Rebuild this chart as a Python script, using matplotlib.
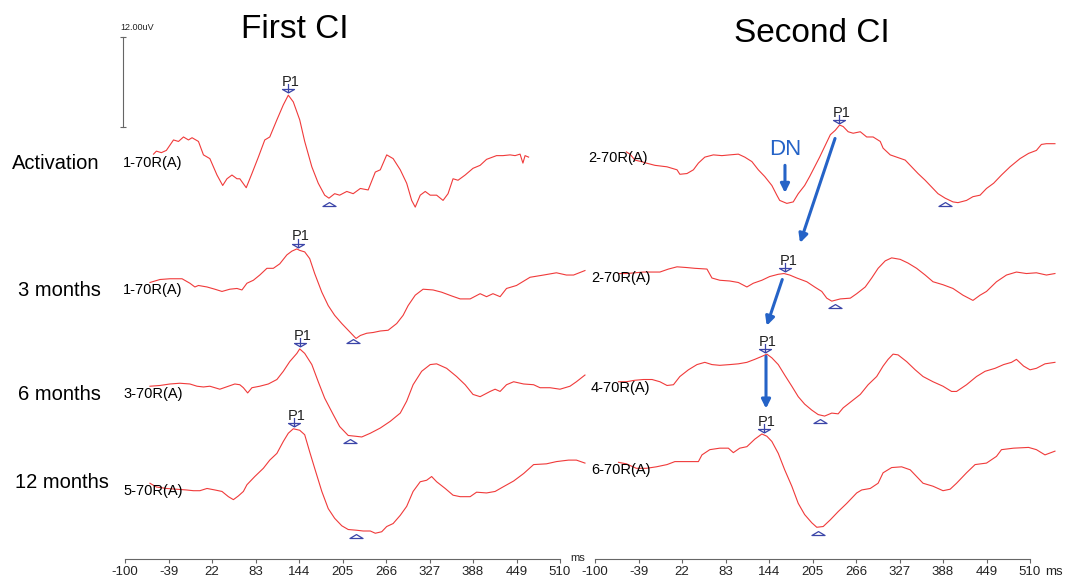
import numpy as np
import matplotlib.pyplot as plt
from matplotlib.path import Path

plt.rcParams['font.family'] = ['Liberation Sans', 'DejaVu Sans']

# ---- data (latency in ms, amplitude in uV) ----
# first CI
first_act_t = [-60, -56, -49, -42, -32, -25, -18, -11, -6, 3, 10, 19, 29, 37, 43, 50, 57, 61, 70, 78,
               87, 96, 103, 113, 122, 129, 136, 145, 152, 162, 171, 180, 186, 194, 201, 211, 220, 230,
               241, 251, 258, 267, 276, 286, 295, 302, 307, 314, 321, 328, 337, 346, 353, 360, 367,
               377, 388, 398, 407, 421, 430, 440, 447, 454, 458, 461, 466]
first_act_uv = [0.8, 1.2, 1.0, 1.3, 2.7, 2.5, 3.1, 2.7, 3.0, 2.5, 0.7, 0.2, -2.0, -3.4, -2.5, -2.0, -2.5,
                -2.5, -3.7, -1.8, 0.4, 2.7, 3.1, 5.4, 7.4, 8.7, 7.8, 5.4, 2.5, -0.9, -3.1, -4.7, -5.1,
                -4.5, -4.7, -4.2, -4.5, -3.8, -4.0, -1.6, -1.3, 0.7, 0.2, -1.3, -3.1, -5.4, -6.3, -4.7,
                -4.2, -4.7, -4.7, -5.4, -4.5, -2.5, -2.7, -2.0, -1.1, -0.7, 0.1, 0.6, 0.6, 0.7, 0.6,
                0.8, -0.4, 0.6, 0.4]

first_3m_t = [-65, -51, -37, -20, -9, -2, 3, 15, 26, 36, 47, 57, 64, 71, 80, 89, 99, 108, 117, 127,
              134, 141, 145, 152, 159, 166, 176, 185, 194, 204, 215, 224, 230, 239, 248, 258, 269, 281,
              290, 297, 307, 318, 332, 344, 358, 370, 384, 398, 407, 416, 426, 435, 449, 468, 487, 505,
              519, 529, 545]
first_3m_uv = [-0.3, 0.1, 0.2, 0.2, -0.4, -0.9, -0.7, -0.9, -1.2, -1.5, -1.2, -1.1, -1.3, -0.4, 0.0,
               0.7, 1.6, 1.6, 2.2, 3.4, 3.9, 4.2, 4.0, 3.8, 2.9, 0.9, -1.6, -3.4, -4.7, -5.8, -6.9,
               -7.8, -7.4, -7.1, -7.0, -6.8, -6.7, -5.8, -4.7, -3.4, -2.0, -1.2, -1.3, -1.6, -2.1,
               -2.5, -2.5, -1.8, -2.2, -1.8, -2.2, -1.1, -0.7, 0.4, 0.7, 1.0, 0.7, 0.7, 1.3]

first_6m_t = [-65, -51, -37, -23, -9, 1, 10, 19, 33, 45, 54, 61, 66, 72, 78, 89, 101, 113, 122, 131,
              141, 145, 152, 162, 171, 180, 192, 201, 213, 223, 232, 244, 258, 272, 286, 295, 304, 316,
              328, 337, 351, 365, 377, 388, 398, 412, 419, 426, 435, 445, 459, 473, 482, 496, 510,
              524, 533, 545]
first_6m_uv = [-0.2, -0.1, 0.1, 0.2, 0.1, -0.2, -0.3, -0.2, -0.6, -0.2, 0.1, 0.0, -0.4, -1.1, -0.4,
               -0.2, 0.1, 0.7, 1.8, 3.1, 4.2, 4.8, 4.2, 2.7, 0.4, -1.8, -4.0, -5.6, -6.8, -6.9, -7.0,
               -6.5, -5.8, -4.9, -3.8, -2.2, 0.0, 1.8, 2.7, 2.8, 2.2, 1.1, 0.0, -1.3, -1.6, -0.9,
               -0.6, -0.9, 0.0, 0.4, 0.1, 0.0, -0.4, -0.4, -0.6, -0.2, 0.4, 1.3]

first_12m_t = [-65, -56, -42, -28, -14, -4, 5, 15, 26, 36, 45, 52, 59, 66, 71, 82, 94, 103, 113, 122,
               129, 136, 145, 152, 159, 166, 176, 185, 194, 204, 213, 225, 234, 244, 251, 260, 267,
               276, 286, 295, 304, 314, 323, 330, 337, 349, 360, 370, 384, 393, 407, 419, 430, 445,
               459, 473, 491, 505, 522, 533, 545]
first_12m_uv = [0.9, 0.4, 0.2, 0.1, 0.0, -0.1, -0.1, 0.2, 0.0, -0.2, -0.9, -1.3, -0.8, -0.2, 0.7,
                1.8, 2.9, 4.0, 4.9, 6.5, 7.6, 8.2, 8.0, 7.4, 5.1, 2.9, -0.2, -2.5, -3.8, -4.8, -5.3,
                -5.4, -5.5, -5.5, -5.8, -5.6, -4.9, -4.5, -3.4, -2.2, -0.2, 1.1, 1.3, 1.8, 1.1, 0.2,
                -0.7, -0.9, -0.9, -0.3, -0.4, -0.2, 0.4, 1.2, 2.2, 3.4, 3.5, 3.8, 4.0, 4.0, 3.6]

# second CI
second_act_t = [-56, -51, -44, -35, -28, -16, 1, 15, 19, 29, 38, 45, 54, 66, 78, 89, 101, 110, 120,
                129, 138, 148, 155, 159, 169, 178, 185, 194, 201, 208, 215, 222, 230, 237, 243, 248,
                255, 262, 272, 281, 290, 300, 304, 314, 323, 335, 344, 353, 363, 372, 381, 391, 402,
                409, 421, 430, 440, 449, 459, 470, 482, 496, 508, 519, 526, 533, 545]
second_act_uv = [1.1, 0.8, 0.0, -0.2, -0.4, -0.7, -0.9, -1.3, -1.9, -1.8, -1.3, -0.4, 0.4, 0.7, 0.6,
                 0.7, 0.8, 0.4, -0.2, -1.3, -2.2, -3.4, -4.7, -5.4, -5.8, -5.6, -4.5, -3.4, -2.2,
                 -0.9, 0.4, 1.8, 3.4, 4.0, 4.7, 4.5, 3.8, 3.6, 3.8, 3.1, 3.1, 2.5, 1.6, 0.7, 0.4, 0.0,
                 -0.9, -1.8, -2.7, -3.6, -4.5, -5.1, -5.6, -5.7, -5.4, -4.9, -4.7, -3.8, -3.1, -2.0,
                 -0.9, 0.2, 0.9, 1.3, 2.1, 2.2, 2.2]

second_3m_t = [-67, -56, -44, -32, -20, -9, 3, 15, 29, 40, 57, 64, 75, 89, 101, 113, 122, 134, 145,
               157, 165, 173, 183, 197, 208, 218, 225, 232, 244, 258, 267, 279, 288, 297, 307, 316,
               328, 339, 351, 363, 374, 388, 402, 416, 430, 440, 449, 463, 477, 491, 505, 519, 533, 545]
second_3m_uv = [0.2, 0.2, 0.3, 0.4, 0.4, 0.4, 0.8, 1.1, 1.0, 0.9, 0.8, -0.4, -0.7, -0.8, -1.0, -1.6,
                -1.1, -0.7, -0.2, 0.1, 0.2, 0.0, -0.4, -0.9, -1.6, -2.2, -3.1, -3.5, -3.2, -3.1, -2.5,
                -1.6, -0.4, 0.9, 1.9, 2.3, 2.1, 1.6, 0.9, 0.0, -0.9, -1.3, -1.8, -2.7, -3.4, -2.7,
                -2.2, -0.9, 0.0, 0.4, 0.2, 0.3, 0.0, 0.2]

second_6m_t = [-67, -56, -44, -32, -20, -9, 1, 10, 19, 31, 43, 54, 64, 75, 89, 101, 113, 124, 134,
               141, 148, 157, 166, 176, 185, 194, 204, 213, 222, 232, 241, 248, 260, 272, 283, 295,
               304, 311, 318, 325, 337, 349, 360, 374, 388, 400, 407, 421, 435, 447, 461, 473, 484,
               491, 501, 510, 519, 531, 545]
second_6m_uv = [0.4, 0.4, 0.6, 0.7, 0.7, 0.4, -0.1, 0.0, 1.1, 2.0, 2.7, 3.0, 2.7, 2.6, 2.7, 2.8, 3.0,
                3.4, 3.8, 4.1, 3.6, 2.7, 1.3, -0.2, -1.6, -2.6, -3.4, -4.0, -4.2, -3.8, -3.9, -3.1,
                -2.2, -1.3, 0.0, 1.1, 2.5, 3.4, 4.1, 4.0, 3.1, 2.0, 1.1, 0.4, -0.2, -0.9, -0.9, 0.0,
                1.1, 1.8, 2.2, 2.7, 3.0, 3.4, 2.5, 2.0, 2.2, 2.8, 3.0]

second_12m_t = [-67, -56, -42, -28, -14, 1, 12, 29, 45, 50, 61, 75, 87, 94, 103, 113, 124, 134, 141,
                148, 157, 166, 176, 185, 194, 204, 211, 220, 230, 241, 253, 267, 274, 286, 297, 304,
                316, 330, 342, 351, 360, 374, 388, 398, 407, 421, 433, 449, 463, 470, 487, 508, 519,
                531, 545]
second_12m_uv = [1.0, 0.8, 0.2, 0.2, 0.4, 0.7, 1.1, 1.1, 1.1, 2.0, 2.7, 2.9, 2.9, 2.3, 2.9, 3.1, 4.1,
                 4.8, 4.5, 3.8, 2.2, 0.0, -2.2, -4.5, -6.0, -7.1, -7.7, -7.6, -6.7, -5.6, -4.5, -3.1,
                 -2.7, -2.5, -1.8, -0.4, 0.3, 0.4, 0.0, -0.9, -1.8, -2.2, -2.8, -2.6, -1.8, -0.4, 0.7,
                 0.9, 1.8, 2.7, 2.9, 3.0, 2.7, 2.0, 2.5]

# marked latencies (ms)
first_p1 = [129, 143, 145, 137]
first_trough = [186, 220, 216, 224]
second_p1 = [242, 167, 138, 137]
second_trough = [391, 237, 216, 213]

row_labels = ['Activation', '3 months', '6 months', '12 months']
first_channels = ['1-70R(A)', '1-70R(A)', '3-70R(A)', '5-70R(A)']
second_channels = ['2-70R(A)', '2-70R(A)', '4-70R(A)', '6-70R(A)']
tick_values = [-100, -39, 22, 83, 144, 205, 266, 327, 388, 449, 510]

# ---- styles ----
RED = '#f03a3a'
MARK = '#3b45a8'
ARROW = '#2563c7'
GREY = '#666666'

# peak marker: flat down triangle with a stem, trough marker: flat up triangle
p1_marker = Path([(-1, 0), (1, 0), (0, -0.57), (-1, 0), (0, 0.93), (0, -0.57)],
                 [Path.MOVETO, Path.LINETO, Path.LINETO, Path.CLOSEPOLY, Path.MOVETO, Path.LINETO])
trough_marker = Path([(-1, 0), (1, 0), (0, 0.6), (-1, 0)],
                     [Path.MOVETO, Path.LINETO, Path.LINETO, Path.CLOSEPOLY])

W, H = 1067, 581
UV_PER_PX = 0.134
fig = plt.figure(figsize=(W / 100, H / 100), dpi=100)


def make_axes(left_px, ms_x, ms_y, ms_size):
    ax = fig.add_axes([left_px / W, 0, 435 / W, 1])
    ax.set_xlim(-100, 510)
    ax.set_ylim(0, H * UV_PER_PX)
    for s in ['left', 'right', 'top']:
        ax.spines[s].set_visible(False)
    ax.spines['bottom'].set_position(('data', 22 * UV_PER_PX))
    ax.spines['bottom'].set_bounds(-100, 510)
    ax.spines['bottom'].set_color(GREY)
    ax.spines['bottom'].set_linewidth(0.8)
    ax.set_yticks([])
    ax.set_xticks(tick_values)
    ax.set_xticklabels([str(v) for v in tick_values])
    ax.tick_params(axis='x', length=3, width=0.8, color=GREY, labelsize=9.5,
                   labelcolor='#222222', pad=2)
    ax.patch.set_alpha(0)
    ax.text(ms_x, ms_y, 'ms', fontsize=ms_size, color='#222222', ha='left', va='center')
    return ax


def draw_panel(ax, traces, p1s, troughs, offsets):
    for (t, uv), tp, tt, off in zip(traces, p1s, troughs, offsets):
        y = np.array(uv) + off
        ax.plot(t, y, color=RED, lw=0.8, clip_on=False)
        yp = np.interp(tp, t, y)
        ax.plot([tp], [yp + 0.8], marker=p1_marker, ms=8.6, mfc='none', mec=MARK, mew=0.9,
                ls='none', clip_on=False)
        ax.text(tp + 4, yp + 1.25, 'P1', fontsize=10.5, color='#222222', ha='center',
                va='baseline')
        yt = np.interp(tt, t, y)
        ax.plot([tt], [yt - 1.0], marker=trough_marker, ms=9.4, mfc='none', mec=MARK, mew=0.9,
                ls='none', clip_on=False)


# left "ms" sits at the axis end, just above the right panel's first tick label
ax1 = make_axes(125, 525, 23 * UV_PER_PX, 8)
ax2 = make_axes(595, 531, 9 * UV_PER_PX, 9.5)

first_traces = [(first_act_t, first_act_uv), (first_3m_t, first_3m_uv),
                (first_6m_t, first_6m_uv), (first_12m_t, first_12m_uv)]
second_traces = [(second_act_t, second_act_uv), (second_3m_t, second_3m_uv),
                 (second_6m_t, second_6m_uv), (second_12m_t, second_12m_uv)]

draw_panel(ax1, first_traces, first_p1, first_trough, [56.4, 40.3, 26.3, 12.2])
draw_panel(ax2, second_traces, second_p1, second_trough, [56.4, 41.0, 26.3, 14.9])

# 12 uV scale bar
ax1.plot([-103.2, -103.2], [60.9, 72.9], color=GREY, lw=0.8, marker='_', ms=5, mew=0.8,
         clip_on=False)
ax1.text(-107, 74.2, '12.00uV', fontsize=6.5, color='#222222', ha='left', va='center')

# DN and the P1 shift arrows on the second CI
ax2.text(166.4, 57.8, 'DN', fontsize=16, color=ARROW, ha='center', va='center')
arrow_kw = dict(arrowstyle='-|>', color=ARROW, lw=2.2, mutation_scale=13, shrinkA=0, shrinkB=0)
ax2.annotate('', xy=(166.4, 52.0), xytext=(166.4, 55.7), arrowprops=arrow_kw)
ax2.annotate('', xy=(187.5, 45.3), xytext=(236.6, 59.3), arrowprops=arrow_kw)
ax2.annotate('', xy=(140.8, 34.2), xytext=(162.6, 40.4), arrowprops=arrow_kw)
ax2.annotate('', xy=(139.8, 23.1), xytext=(139.8, 30.1), arrowprops=arrow_kw)

# titles and row labels
fig.text(295 / W, 1 - 29 / H, 'First CI', fontsize=24, ha='center', va='center')
fig.text(812 / W, 1 - 33 / H, 'Second CI', fontsize=24, ha='center', va='center')

for lab, x, y in zip(row_labels, [12, 18, 18, 15], [163, 290, 394, 483]):
    fig.text(x / W, 1 - y / H, lab, fontsize=14.5, ha='left', va='center')
for lab, y in zip(first_channels, [163, 290, 394, 491]):
    fig.text(123 / W, 1 - y / H, lab, fontsize=10.5, ha='left', va='center')
for lab, x, y in zip(second_channels, [588, 591, 591, 591], [158, 278, 388, 470]):
    fig.text(x / W, 1 - y / H, lab, fontsize=10.5, ha='left', va='center')

fig.savefig('out.png', dpi=100)
